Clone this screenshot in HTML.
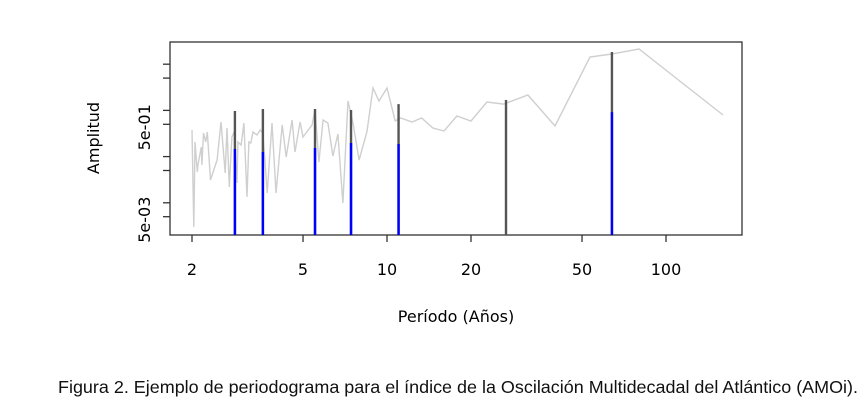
<!DOCTYPE html>
<html><head><meta charset="utf-8"><style>
body{margin:0;background:#fff;}
svg{display:block;}
.t{font-family:"DejaVu Sans",sans-serif;fill:#000;}
</style></head><body>
<svg id="chart" width="865" height="416" viewBox="0 0 865 416">
<rect x="170" y="42" width="572" height="193" fill="none" stroke="#333" stroke-width="1.3"/>
<g id="grey"></g><g id="stems"></g><g id="axes"></g>
<text class="t" x="456" y="322" font-size="16" text-anchor="middle">Período (Años)</text>
<text class="t" transform="translate(99,138) rotate(-90)" font-size="16" text-anchor="middle">Amplitud</text>
<text x="58" y="393" font-family="Liberation Sans, sans-serif" font-size="17.5" textLength="800" lengthAdjust="spacingAndGlyphs" fill="#111">Figura 2. Ejemplo de periodograma para el índice de la Oscilación Multidecadal del Atlántico (AMOi).</text>
</svg>
<script>
const periods=[2.00,2.03,2.05,2.09,2.10,2.16,2.17,2.20,2.24,2.27,2.33,2.46,2.54,2.63,2.67,2.72,2.78,2.83,2.90,2.92,3.00,3.07,3.15,3.20,3.25,3.31,3.42,3.51,3.59,3.72,3.87,4.00,4.21,4.35,4.57,4.68,4.88,5.00,5.39,5.52,5.70,5.90,6.14,6.40,6.67,6.95,7.25,7.55,7.94,8.47,8.91,9.36,10.0,10.7,11.2,12.3,13.3,14.6,16.0,17.8,20.0,22.8,26.2,32.0,40.0,53.4,64.0,80.0,160];
const amplitudes=[0.377,0.0030,0.207,0.0464,0.0658,0.161,0.0658,0.324,0.207,0.340,0.0311,0.0844,0.561,0.0442,0.416,0.0220,0.265,0.340,0.0268,0.207,0.178,0.533,0.0134,0.207,0.197,0.340,0.293,0.377,0.324,0.0163,0.533,0.0163,0.483,0.098,0.619,0.126,0.561,0.265,0.483,1.07,0.0764,0.619,0.533,0.103,0.308,0.0099,1.60,0.533,0.0844,0.340,3.05,1.60,3.05,0.589,0.684,0.561,0.684,0.416,0.358,0.757,0.589,1.52,1.37,2.15,0.459,14.3,16.6,21.3,0.794];
const peakPeriods=[2.85,3.59,5.52,7.43,11.0,26.7,64.0];
const peakTotal=[0.97,1.07,1.07,1.02,1.37,1.68,18.4];
const peakBlue=[0.146,0.126,0.153,0.197,0.187,0.002,0.92];
const xTicks=[2,5,10,20,50,100];
const xTickLabels=["2","5","10","20","50","100"];
const yTicks=[0.005,0.01,0.05,0.1,0.5,1,5,10];
const yLabelVals=[0.005,0.5];
const yLabels=["5e-03","5e-01"];

const NS="http://www.w3.org/2000/svg";
function X(p){return 192+279*(Math.log10(p)-Math.log10(2));}
function Y(a){return 124.3-46.2*(Math.log10(a)-Math.log10(0.5));}
const BOT=235;
function mk(tag,attrs,parent){const e=document.createElementNS(NS,tag);for(const k in attrs)e.setAttribute(k,attrs[k]);parent.appendChild(e);return e;}

const g=document.getElementById('grey');
const pl=mk('polyline',{points:periods.map((p,i)=>X(p).toFixed(1)+','+Y(amplitudes[i]).toFixed(1)).join(' '),fill:'none',stroke:'#cfcfcf','stroke-width':1.4},g);



const s=document.getElementById('stems');
peakPeriods.forEach((p,i)=>{
  const x=X(p);
  const a=mk('line',{x1:x,x2:x,y1:BOT,y2:Y(peakTotal[i]),stroke:'#555','stroke-width':2.4},s);
  
  
  const yb=Math.min(BOT,Y(peakBlue[i]));
  const b=mk('line',{x1:x,x2:x,y1:BOT,y2:yb,stroke:'#0000ff','stroke-width':2.4},s);
  
  
});

const ax=document.getElementById('axes');
xTicks.forEach((t,i)=>{
  const x=X(t);
  const l=mk('line',{x1:x,x2:x,y1:BOT,y2:BOT+7,stroke:'#333','stroke-width':1.3},ax);
  
  
  const tx=mk('text',{x:x,y:275,'text-anchor':'middle','font-size':16,class:'t'},ax);
  tx.textContent=xTickLabels[i];
  
  
});
yTicks.forEach(t=>{
  const y=Y(t);
  const l=mk('line',{x1:163,x2:170,y1:y,y2:y,stroke:'#333','stroke-width':1.3},ax);
  
  
});
yLabelVals.forEach((t,i)=>{
  const y=Y(t);
  const tx=mk('text',{transform:'translate(150,'+(y+3)+') rotate(-90)','text-anchor':'middle','font-size':16,class:'t'},ax);
  tx.textContent=yLabels[i];
  
  
});
</script>
</body></html>
